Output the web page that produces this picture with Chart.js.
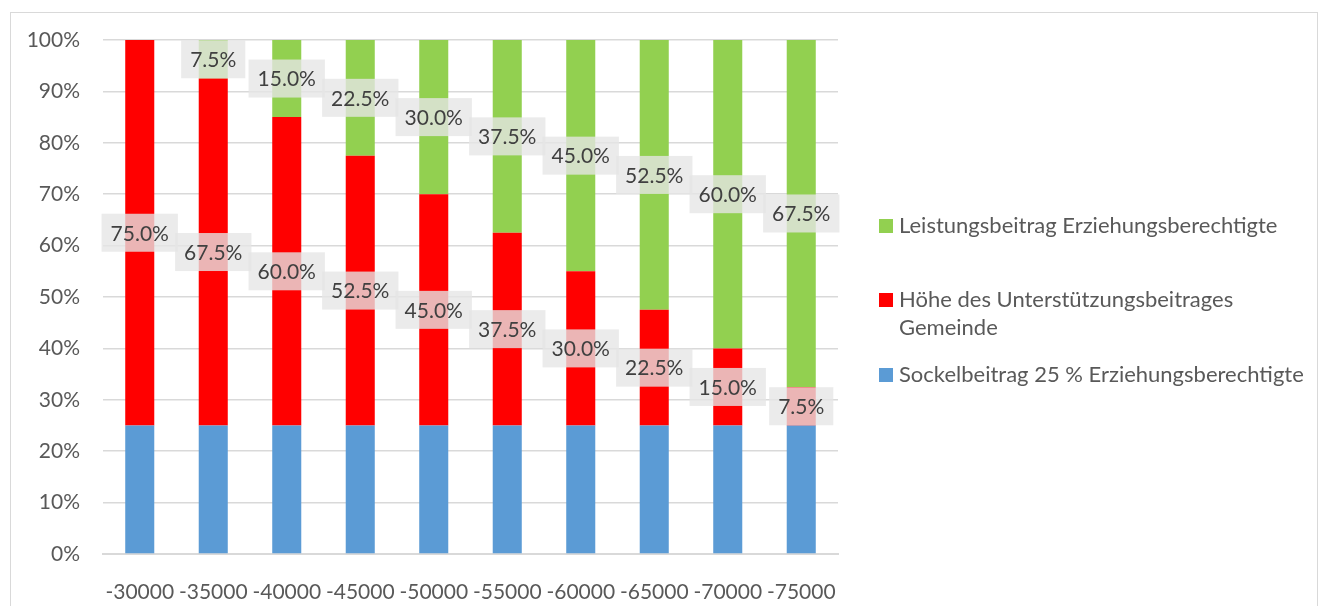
<!DOCTYPE html>
<html>
<head>
<meta charset="utf-8">
<script src="https://cdn.jsdelivr.net/npm/chart.js@4.4.0/dist/chart.umd.min.js"></script>
<style>
body { margin: 0; background: #fff; }
#frame { position: absolute; left: 10px; top: 12px; width: 1306px; height: 620px; border: 1px solid #d9d9d9; }
#wrap { position: absolute; left: 0; top: 0; width: 1318px; height: 606px; }
</style>
</head>
<body>
<div id="frame"></div>
<div id="wrap"><canvas id="chart_canvas"></canvas></div>
<script>
var labels = ['-30000', '-35000', '-40000', '-45000', '-50000', '-55000', '-60000', '-65000', '-70000', '-75000'];
var sockel = [25, 25, 25, 25, 25, 25, 25, 25, 25, 25];
var gemeinde = [75, 67.5, 60, 52.5, 45, 37.5, 30, 22.5, 15, 7.5];
var leistung = [0, 7.5, 15, 22.5, 30, 37.5, 45, 52.5, 60, 67.5];
var y_ticks = [0, 10, 20, 30, 40, 50, 60, 70, 80, 90, 100];
var names = ['Sockelbeitrag 25 % Erziehungsberechtigte', 'Höhe des Unterstützungsbeitrages Gemeinde', 'Leistungsbeitrag Erziehungsberechtigte'];
var colors = ['#5b9bd5', '#ff0000', '#92d050'];

var font_name = 'Lato';

// value boxes on the red and green segments
var value_labels = {
    id: 'value_labels',
    afterDatasetsDraw: function(chart) {
        var ctx = chart.ctx;
        ctx.save();
        ctx.font = '21px ' + font_name;
        ctx.textAlign = 'center';
        ctx.textBaseline = 'middle';
        [1, 2].forEach(function(ds) {
            var meta = chart.getDatasetMeta(ds);
            meta.data.forEach(function(bar, i) {
                var v = chart.data.datasets[ds].data[i];
                if (!v) return;
                var txt = v.toFixed(1) + '%';
                var cy = (bar.y + bar.base) / 2;
                var w = ctx.measureText(txt).width + 18;
                var h = 38;
                ctx.fillStyle = 'rgba(229,229,229,0.79)';
                ctx.fillRect(bar.x - w / 2, cy - h / 2, w, h);
                ctx.fillStyle = '#404040';
                ctx.fillText(txt, bar.x, cy + 1);
            });
        });
        ctx.restore();
    }
};

// legend on the right, top to bottom green, red, blue
var side_legend = {
    id: 'side_legend',
    afterDraw: function(chart) {
        var ctx = chart.ctx;
        var items = [
            {ds: 2, y: 226, lines: ['Leistungsbeitrag Erziehungsberechtigte']},
            {ds: 1, y: 300, lines: ['Höhe des Unterstützungsbeitrages', 'Gemeinde']},
            {ds: 0, y: 375, lines: ['Sockelbeitrag 25 % Erziehungsberechtigte']}
        ];
        ctx.save();
        ctx.font = '22px ' + font_name;
        ctx.textAlign = 'left';
        ctx.textBaseline = 'middle';
        items.forEach(function(it) {
            ctx.fillStyle = chart.data.datasets[it.ds].backgroundColor;
            ctx.fillRect(879, it.y - 7, 14, 14);
            ctx.fillStyle = '#595959';
            it.lines.forEach(function(line, k) {
                ctx.fillText(line, 899, it.y + k * 28);
            });
        });
        ctx.restore();
    }
};

var canvas = document.getElementById('chart_canvas');
var chart = new Chart(canvas.getContext('2d'), {
    type: 'bar',
    data: {
        labels: labels,
        datasets: [
            {label: names[0], data: sockel, backgroundColor: colors[0]},
            {label: names[1], data: gemeinde, backgroundColor: colors[1]},
            {label: names[2], data: leistung, backgroundColor: colors[2]}
        ]
    },
    options: {
        responsive: true,
        maintainAspectRatio: false,
        animation: false,
        layout: {padding: {left: 0, right: 480, top: 40, bottom: 0}},
        datasets: {bar: {barPercentage: 0.395, categoryPercentage: 1}},
        plugins: {
            legend: {display: false},
            tooltip: {enabled: false}
        },
        scales: {
            x: {
                stacked: true,
                grid: {display: false},
                border: {color: '#d9d9d9', width: 2},
                ticks: {color: '#595959', font: {family: font_name, size: 21}, padding: 18, maxRotation: 0, autoSkip: false},
                afterFit: function(s) { s.height = 52; }
            },
            y: {
                stacked: true,
                min: 0,
                max: 100,
                afterBuildTicks: function(s) { s.ticks = y_ticks.map(function(v) { return {value: v}; }); },
                grid: {color: '#d9d9d9', lineWidth: 1.5, drawTicks: false},
                border: {display: false},
                ticks: {color: '#595959', font: {family: font_name, size: 21}, padding: 23,
                    callback: function(v) { return v + '%'; }},
                afterFit: function(s) { s.width = 103; }
            }
        }
    },
    plugins: [value_labels, side_legend]
});
</script>
</body>
</html>
